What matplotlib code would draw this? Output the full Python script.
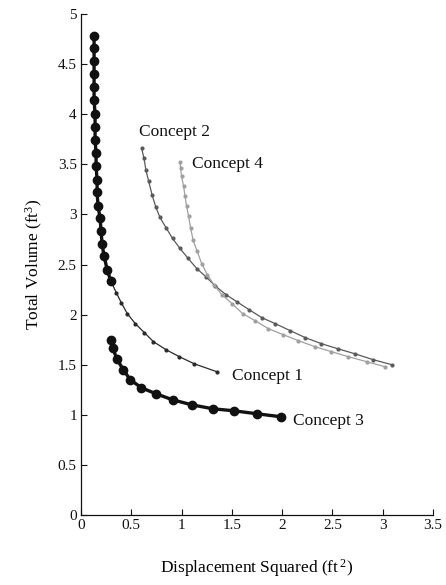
import matplotlib
matplotlib.use("Agg")
import matplotlib.pyplot as plt

# Concept 1 (upper, heavy marked portion)
c1a_x = [0.13, 0.13, 0.13, 0.13, 0.13, 0.13, 0.14, 0.14, 0.14, 0.15,
         0.15, 0.16, 0.16, 0.17, 0.19, 0.20, 0.21, 0.23, 0.26, 0.295]
c1a_y = [4.78, 4.66, 4.53, 4.40, 4.27, 4.14, 4.00, 3.87, 3.74, 3.61,
         3.48, 3.34, 3.22, 3.08, 2.96, 2.83, 2.70, 2.58, 2.45, 2.34]
# Concept 1 (lower, thin portion)
c1b_x = [0.295, 0.35, 0.40, 0.46, 0.54, 0.63, 0.72, 0.845, 0.978, 1.123, 1.35]
c1b_y = [2.34, 2.22, 2.12, 2.01, 1.91, 1.82, 1.73, 1.65, 1.58, 1.51, 1.43]
# Concept 2
c2_x = [0.603, 0.626, 0.646, 0.673, 0.708, 0.745, 0.785, 0.85, 0.91, 0.984, 1.066, 1.15, 1.24,
        1.33, 1.44, 1.547, 1.67, 1.797, 1.93, 2.08, 2.23, 2.39, 2.55, 2.72, 2.905, 3.09]
c2_y = [3.66, 3.56, 3.44, 3.33, 3.19, 3.07, 2.97, 2.86, 2.76, 2.66, 2.56, 2.46, 2.38,
        2.29, 2.20, 2.13, 2.05, 1.97, 1.91, 1.84, 1.77, 1.71, 1.66, 1.61, 1.55, 1.50]
# Concept 3
c3_x = [0.295, 0.315, 0.355, 0.42, 0.49, 0.60, 0.745, 0.91, 1.10, 1.31, 1.52, 1.75, 1.99]
c3_y = [1.75, 1.67, 1.56, 1.45, 1.35, 1.27, 1.21, 1.15, 1.10, 1.06, 1.04, 1.01, 0.98]
# Concept 4
c4_x = [0.985, 0.99, 1.00, 1.02, 1.035, 1.05, 1.07, 1.09, 1.116, 1.155, 1.2, 1.255, 1.32, 1.40,
        1.50, 1.607, 1.73, 1.862, 2.01, 2.16, 2.325, 2.49, 2.657, 2.84, 3.02]
c4_y = [3.52, 3.46, 3.38, 3.28, 3.18, 3.08, 2.98, 2.86, 2.74, 2.63, 2.51, 2.40, 2.30, 2.20,
        2.11, 2.01, 1.94, 1.86, 1.80, 1.74, 1.68, 1.63, 1.58, 1.53, 1.48]

labels = ["Concept 1", "Concept 2", "Concept 3", "Concept 4"]
label_pos = [(1.50, 1.39), (0.58, 3.82), (2.11, 0.94), (1.10, 3.50)]

x_ticks = [0, 0.5, 1, 1.5, 2, 2.5, 3, 3.5]
x_ticklabels = ["0", "0.5", "1", "1.5", "2", "2.5", "3", "3.5"]
y_ticks = [0, 0.5, 1, 1.5, 2, 2.5, 3, 3.5, 4, 4.5, 5]
y_ticklabels = ["0", "0.5", "1", "1.5", "2", "2.5", "3", "3.5", "4", "4.5", "5"]

plt.rcParams['font.family'] = ['Liberation Serif', 'DejaVu Serif']
plt.rcParams['mathtext.default'] = 'regular'

fig = plt.figure(figsize=(4.46, 5.85), dpi=100)
ax = fig.add_axes([0.1816, 0.1197, 0.7894, 0.8563])

ax.plot(c2_x, c2_y, color='#5a5a5a', lw=0.9, marker='o', ms=2.0, zorder=2)
ax.plot(c4_x, c4_y, color='#a0a0a0', lw=0.9, marker='o', ms=2.0, zorder=2)
ax.plot(c1b_x, c1b_y, color='#2a2a2a', lw=0.9, marker='o', ms=2.0, zorder=3)
ax.plot(c1a_x, c1a_y, color='#111111', lw=2.4, marker='o', ms=6.0, zorder=4)
ax.plot(c3_x, c3_y, color='#111111', lw=2.4, marker='o', ms=6.0, zorder=4)

for lab, (lx, ly) in zip(labels, label_pos):
    ax.text(lx, ly, lab, fontsize=12.5, va='center', ha='left', color='#111111')

ax.set_xlim(0, 3.5)
ax.set_ylim(0, 5)
ax.set_xticks(x_ticks)
ax.set_xticklabels(x_ticklabels)
ax.set_yticks(y_ticks)
ax.set_yticklabels(y_ticklabels)
ax.tick_params(direction='in', length=4, width=0.8, labelsize=11, colors='#111111', pad=3)
ax.spines['top'].set_visible(False)
ax.spines['right'].set_visible(False)
for s in ['left', 'bottom']:
    ax.spines[s].set_linewidth(0.9)
    ax.spines[s].set_color('#111111')

ax.set_xlabel("Displacement Squared (ft$^{\\,2}$)", fontsize=12.5, labelpad=18)
ax.set_ylabel("Total Volume (ft$^{3}$)", fontsize=12.5, labelpad=9)

fig.savefig("out.png", dpi=100)
